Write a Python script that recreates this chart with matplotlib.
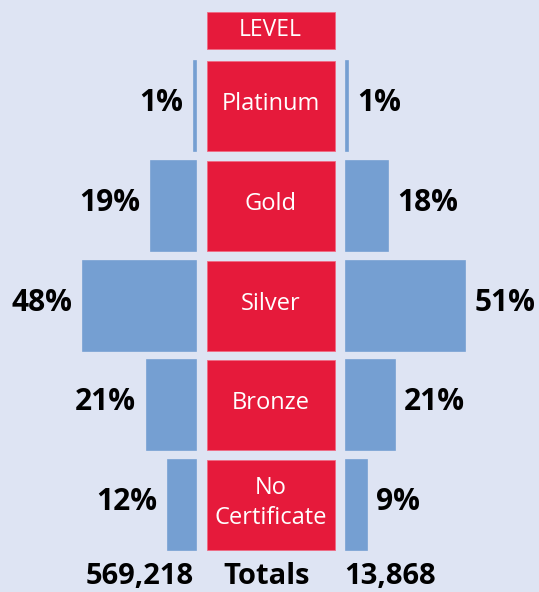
import matplotlib
matplotlib.use("Agg")
import matplotlib.pyplot as plt

# ---- data ----
levels = ["Platinum", "Gold", "Silver", "Bronze", "No\nCertificate"]
left_pct = [1, 19, 48, 21, 12]
right_pct = [1, 18, 51, 21, 9]
header = "LEVEL"
totals_label = "Totals"
left_total = "569,218"
right_total = "13,868"

# ---- style ----
BG = "#DEE4F3"
RED = "#E61A3B"
BLUE = "#759FD2"
FONT = ["Open Sans", "DejaVu Sans"]

W, H = 539, 592
fig = plt.figure(figsize=(W / 100, H / 100), dpi=100, facecolor=BG)
ax = fig.add_axes([0, 0, 1, 1])
ax.set_facecolor(BG)
ax.set_xlim(0, W)
ax.set_ylim(H, 0)
ax.axis("off")

px_per_pct = 2.35
left_edge = 196
right_edge = 345.5
box_l, box_r = 206.5, 334.5
row0, pitch, row_h = 106, 99.8, 90

rows = [row0 + i * pitch for i in range(len(levels))]

# center red boxes
ax.barh(rows, box_r - box_l, left=box_l, height=row_h, color=RED,
        edgecolor="#F06A84", linewidth=0.6)
ax.barh([30.7], box_r - box_l, left=box_l, height=37, color=RED,
        edgecolor="#F06A84", linewidth=0.6)
ax.text((box_l + box_r) / 2, 30, header, color="white", fontsize=16.5,
        family=FONT, ha="center", va="center")

# blue bars
lw = [v * px_per_pct for v in left_pct]
rw = [v * px_per_pct for v in right_pct]
ax.barh(rows, [-w for w in lw], left=left_edge, height=row_h, color=BLUE,
        edgecolor=BLUE, linewidth=1.2)
ax.barh(rows, rw, left=right_edge, height=row_h, color=BLUE,
        edgecolor=BLUE, linewidth=1.2)

for y, name, lv, rv, a, b in zip(rows, levels, left_pct, right_pct, lw, rw):
    ax.text((box_l + box_r) / 2, y - 2, name, color="white", fontsize=17,
            family=FONT, ha="center", va="center", linespacing=1.35)
    ax.text(left_edge - a - 11, y - 3, f"{lv}%", fontsize=21.5, fontweight="bold",
            family=FONT, ha="right", va="center")
    ax.text(right_edge + b + 9, y - 3, f"{rv}%", fontsize=21.5, fontweight="bold",
            family=FONT, ha="left", va="center")

ty = 584
ax.text(267, ty, totals_label, fontsize=21, fontweight="bold",
        family=FONT, ha="center", va="baseline")
ax.text(194, ty, left_total, fontsize=21, fontweight="bold",
        family=FONT, ha="right", va="baseline")
ax.text(344, ty, right_total, fontsize=21, fontweight="bold",
        family=FONT, ha="left", va="baseline")

fig.savefig("out.png", dpi=100, facecolor=BG)
